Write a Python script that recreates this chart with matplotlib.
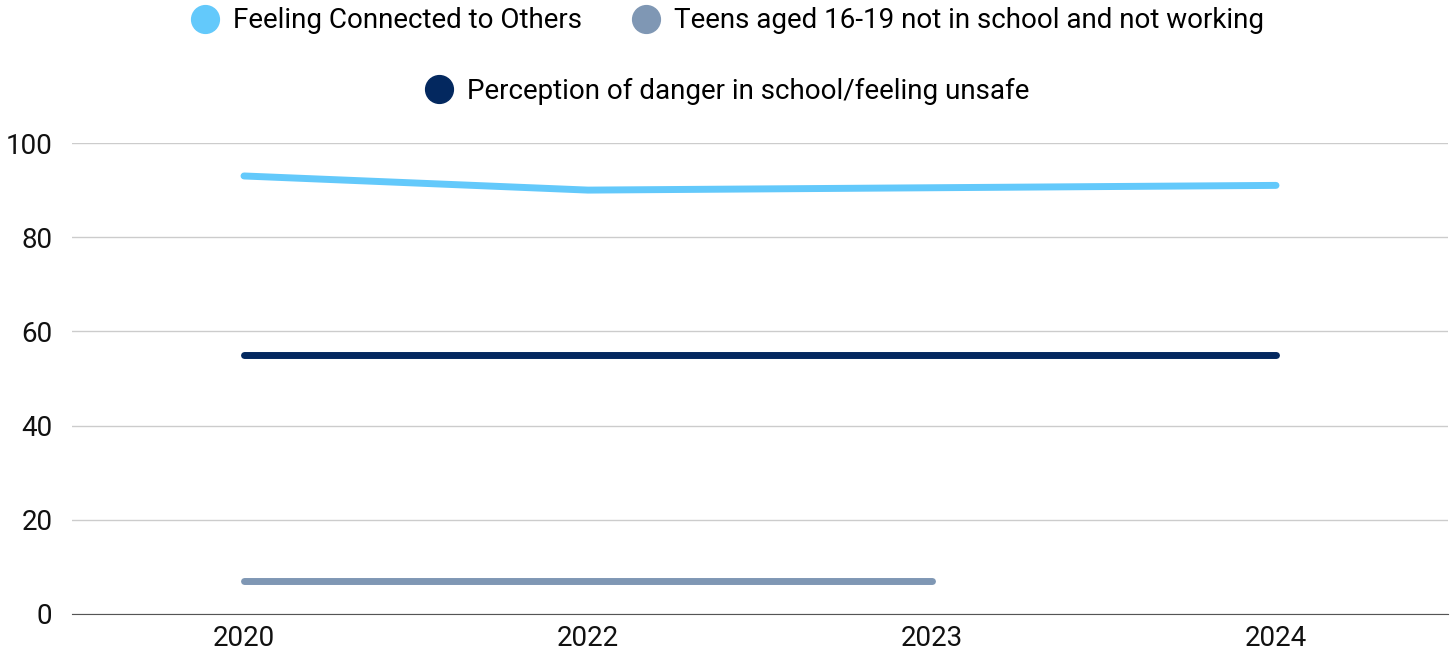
import numpy as np
import matplotlib.pyplot as plt
from matplotlib.lines import Line2D

plt.rcParams['font.family'] = ['Roboto', 'DejaVu Sans']

years = ['2020', '2022', '2023', '2024']
connected = [93, 90, 90.5, 91]
teens = [7, 7, 7, np.nan]
danger = [55, 55, 55, 55]

names = ['Feeling Connected to Others',
         'Teens aged 16-19 not in school and not working',
         'Perception of danger in school/feeling unsafe']
colors = ['#63c9fb', '#7f97b4', '#03285f']

fig = plt.figure(figsize=(14.55, 6.53), dpi=100)
ax = fig.add_axes([72/1455, 39/653, 1376/1455, 471/653])

x = np.arange(len(years))
for vals, c in zip([connected, teens, danger], colors):
    ax.plot(x, vals, color=c, lw=5, solid_capstyle='round', solid_joinstyle='round')

ax.set_xlim(-0.5, 3.5)
ax.set_ylim(0, 100)
ax.set_yticks([0, 20, 40, 60, 80, 100])
ax.set_xticks(x)
ax.set_xticklabels(years)
ax.grid(axis='y', color='#cccccc', lw=1)
ax.set_axisbelow(True)
for s in ['top', 'right', 'left']:
    ax.spines[s].set_visible(False)
ax.spines['bottom'].set_color('#555555')
ax.tick_params(length=0, labelsize=20, colors='#111111')
ax.tick_params(axis='y', pad=14)
ax.tick_params(axis='x', pad=8)

handles = [Line2D([], [], marker='o', ls='', ms=20, color=c) for c in colors]
fig.legend(handles[:2], names[:2], loc='center', bbox_to_anchor=(0.5, 1 - 21/653),
           ncol=2, frameon=False, fontsize=20, handletextpad=0.5, columnspacing=1.8,
           handlelength=1.0)
fig.legend(handles[2:], names[2:], loc='center', bbox_to_anchor=(0.5, 1 - 91/653),
           frameon=False, fontsize=20, handletextpad=0.5, handlelength=1.0)

fig.savefig('out.png', dpi=100)
